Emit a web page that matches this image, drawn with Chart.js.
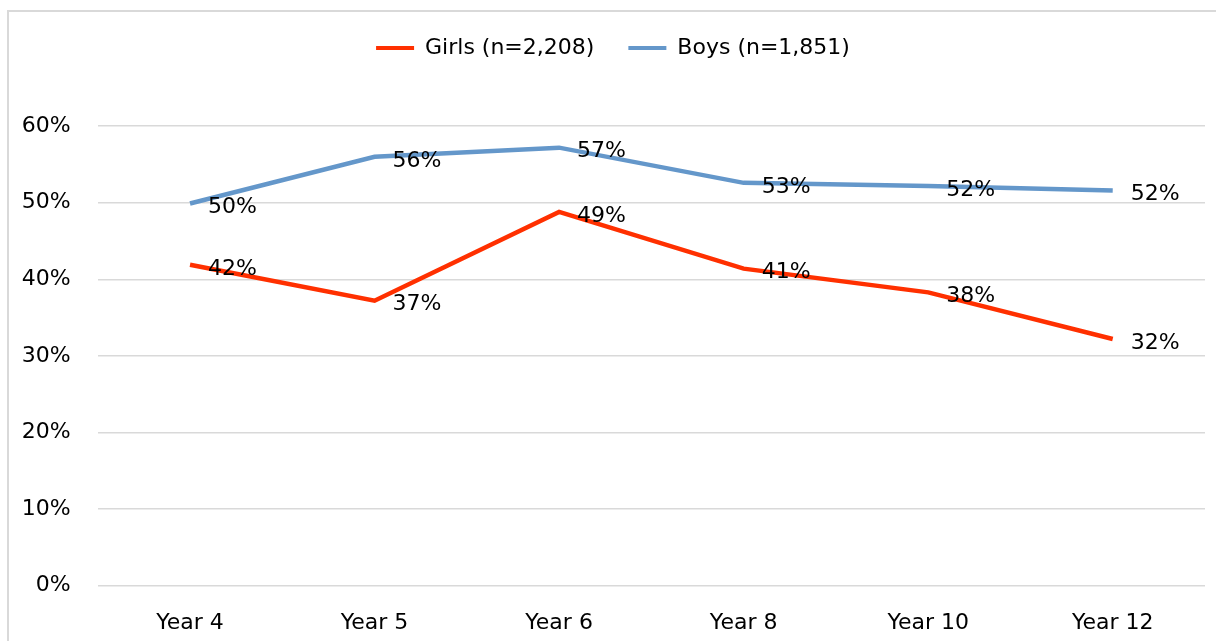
<!DOCTYPE html>
<html>
<head>
<meta charset="utf-8">
<script src="https://cdn.jsdelivr.net/npm/chart.js@4.4.1/dist/chart.umd.min.js"></script>
<style>
  html, body { margin: 0; padding: 0; background: #fff; overflow: hidden; width: 1216px; height: 641px; }
  #frame {
    position: absolute; left: 7px; top: 10px; width: 1240px; height: 700px;
    border-left: 2px solid #d9d9d9; border-top: 2px solid #d9d9d9;
  }
  #wrap { position: absolute; left: 0; top: 0; width: 1216px; height: 660px; }
</style>
</head>
<body>
<div id="frame"></div>
<div id="wrap"><canvas id="chart" width="1216" height="660"></canvas></div>
<script>
// categories and series (percent)
const categories = ["Year 4", "Year 5", "Year 6", "Year 8", "Year 10", "Year 12"];
const girlsValues = [41.9, 37.2, 48.8, 41.4, 38.3, 32.2];
const boysValues = [49.9, 56.0, 57.2, 52.6, 52.2, 51.6];
const seriesNames = ["Girls (n=2,208)", "Boys (n=1,851)"];
const yTicks = [0, 10, 20, 30, 40, 50, 60];

const fontFamily = "'DejaVu Sans', sans-serif";

// etiquetes de valor a la dreta de cada punt
const valueLabels = {
  id: 'valueLabels',
  afterDatasetsDraw(chart) {
    const ctx = chart.ctx;
    ctx.save();
    ctx.font = "22px " + fontFamily;
    ctx.fillStyle = "#000";
    ctx.textAlign = "left";
    ctx.textBaseline = "middle";
    chart.data.datasets.forEach((ds, i) => {
      chart.getDatasetMeta(i).data.forEach((pt, j) => {
        ctx.fillText(Math.round(ds.data[j]) + "%", pt.x + 18, pt.y + 4);
      });
    });
    ctx.restore();
  }
};

new Chart(document.getElementById('chart'), {
  type: 'line',
  data: {
    labels: categories,
    datasets: [
      { label: seriesNames[0], data: girlsValues, borderColor: '#FF3000', backgroundColor: '#FF3000',
        borderWidth: 4.5, pointRadius: 0, tension: 0 },
      { label: seriesNames[1], data: boysValues, borderColor: '#6497CA', backgroundColor: '#6497CA',
        borderWidth: 4.5, pointRadius: 0, tension: 0 }
    ]
  },
  options: {
    responsive: false,
    animation: false,
    layout: { padding: { left: 21, right: 11, top: 3, bottom: 0 } },
    plugins: {
      legend: {
        position: 'top',
        labels: {
          font: { family: fontFamily, size: 22 },
          color: '#000',
          boxWidth: 38,
          boxHeight: 4,
          padding: 34,
          generateLabels(chart) {
            return chart.data.datasets.map((ds, i) => ({
              text: ds.label, fillStyle: ds.borderColor, strokeStyle: ds.borderColor,
              lineWidth: 0, datasetIndex: i, fontColor: '#000'
            }));
          }
        }
      },
      // espai buit entre la llegenda i el gràfic
      subtitle: {
        display: true, text: '', weight: 500,
        font: { size: 1 }, padding: { top: 0, bottom: 56 }
      },
      tooltip: { enabled: false }
    },
    scales: {
      x: {
        offset: true,
        grid: { display: false, drawTicks: false },
        border: { display: false },
        ticks: { font: { family: fontFamily, size: 22 }, color: '#000', padding: 24, maxRotation: 0 }
      },
      y: {
        min: 0, max: 60,
        afterFit(scale) { scale.width = 76.75; },
        afterBuildTicks(scale) { scale.ticks = yTicks.map(v => ({ value: v })); },
        grid: { color: '#d9d9d9', lineWidth: 1.5, drawTicks: false },
        border: { display: false },
        ticks: {
          font: { family: fontFamily, size: 22 }, color: '#000', padding: 27,
          callback: v => v + '%'
        }
      }
    }
  },
  plugins: [valueLabels]
});
</script>
</body>
</html>
